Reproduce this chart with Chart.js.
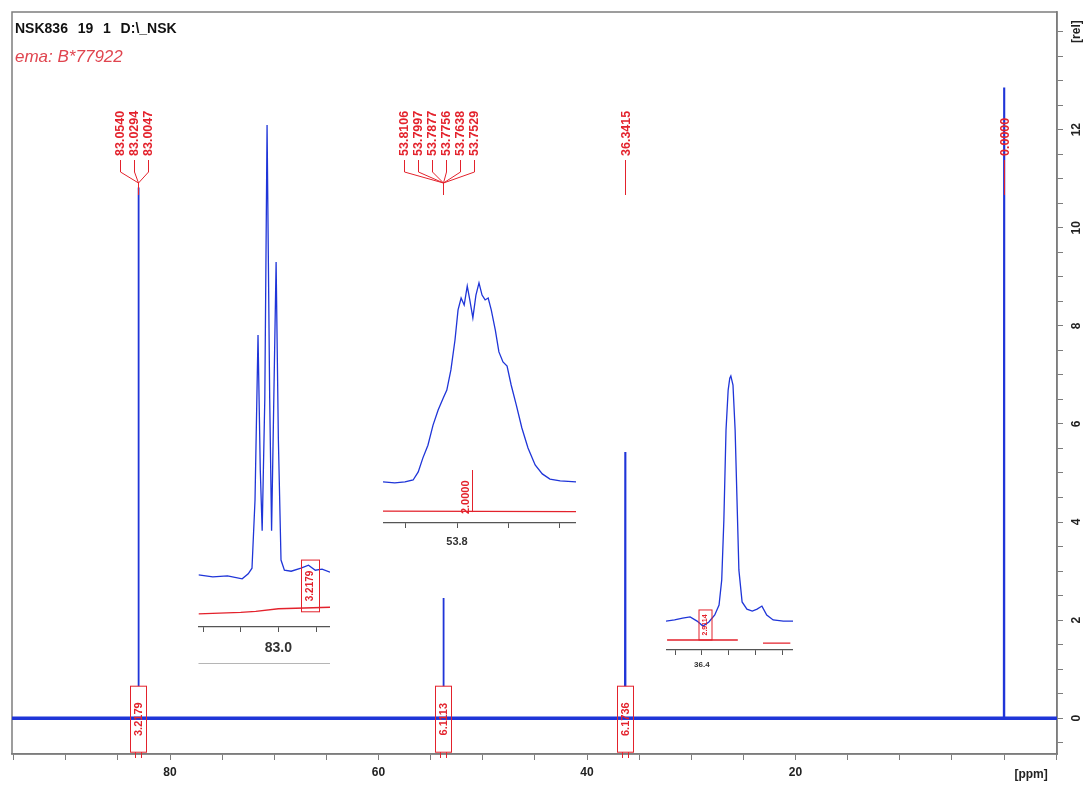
<!DOCTYPE html>
<html>
<head>
<meta charset="utf-8">
<script src="https://cdn.jsdelivr.net/npm/chart.js@4"></script>
<style>
  body { margin: 0; background: #fff; }
  #wrap { position: relative; width: 1090px; height: 787px; overflow: hidden; }
  canvas { position: absolute; }
  .hdr { position: absolute; left: 15px; font-family: Arial, "Liberation Sans", sans-serif; white-space: pre; line-height: 1; }
  #title { top: 21px; font-size: 14px; font-weight: bold; color: #111; word-spacing: 1px; }
  #sub { top: 48px; font-size: 17px; font-style: italic; color: #e0454f; }
</style>
</head>
<body>
<div id="wrap">
  <canvas id="main" width="1090" height="787" style="left:0;top:0"></canvas>
  <canvas id="inset1" width="135" height="555" style="left:195px;top:115px"></canvas>
  <canvas id="inset2" width="193" height="280" style="left:383px;top:275px"></canvas>
  <canvas id="inset3" width="127" height="305" style="left:666px;top:367px"></canvas>
  <div class="hdr" id="title">NSK836  19  1  D:\_NSK</div>
  <div class="hdr" id="sub">ema: B*77922</div>
</div>
<script>
/* ================= DATA ================= */
// main spectrum: peaks (ppm) and heights [rel]
const peakPpm = [83.0294, 53.7756, 36.3415, 0.0];
const peakHeight = [10.82, 2.45, 5.43, 12.86];
const peakLabels = [
  ["83.0540", "83.0294", "83.0047"],
  ["53.8106", "53.7997", "53.7877", "53.7756", "53.7638", "53.7529"],
  ["36.3415"],
  ["0.0000"]
];
const integralPpm = [83.03, 53.78, 36.34];
const integralLabels = ["3.2179", "6.1113", "6.1736"];

const xMin = -5.08, xMax = 95.16;
const yMin = -0.73, yMax = 14.4;

// inset 1: 83.0 ppm multiplet
const inset1Ppm = [83.212, 83.174, 83.135, 83.096, 83.080, 83.070, 83.062, 83.054, 83.048, 83.043,
  83.036, 83.030, 83.023, 83.018, 83.013, 83.006, 83.000, 82.993, 82.984, 82.966, 82.940, 82.920,
  82.902, 82.884, 82.863];
const inset1Int = [10.3, 9.9, 10.1, 9.5, 10.5, 11.6, 25, 57.6, 31, 19, 45, 99, 45, 19, 41, 72, 37,
  13.2, 11.2, 11, 11.6, 12.2, 11.2, 11.4, 10.8];
const inset1IntegPpm = [83.212, 83.10, 83.06, 83.00, 82.863];
const inset1IntegVal = [2.6, 2.9, 3.1, 3.6, 3.9];

// inset 2: 53.8 ppm multiplet
const inset2Ppm = [53.945, 53.922, 53.902, 53.886, 53.876, 53.867, 53.857, 53.847, 53.837, 53.827,
  53.820, 53.812, 53.804, 53.798, 53.792, 53.786, 53.780, 53.775, 53.769, 53.763, 53.757, 53.751,
  53.745, 53.739, 53.733, 53.725, 53.718, 53.710, 53.702, 53.694, 53.684, 53.673, 53.661, 53.647,
  53.633, 53.618, 53.598, 53.567];
const inset2Int = [16.9, 16.5, 16.9, 17.7, 21, 26.7, 32, 40.3, 46.5, 51.4, 54.7, 63, 75.3, 87.7,
  92.6, 89.7, 97.5, 91.8, 84.4, 93.8, 98.8, 93.8, 91.8, 92.6, 87.7, 79.4, 70.4, 66.3, 64.6, 56.8,
  48.6, 39.1, 30.9, 23.9, 20.2, 18.1, 17.3, 16.9];
const inset2IntegPpm = [53.945, 53.567];
const inset2IntegVal = [4.9, 4.7];

// inset 3: 36.3 ppm peak
const inset3Ppm = [36.467, 36.451, 36.436, 36.422, 36.409, 36.398, 36.387, 36.376, 36.368, 36.363,
  36.359, 36.355, 36.351, 36.348, 36.346, 36.342, 36.338, 36.334, 36.331, 36.325, 36.316, 36.306,
  36.297, 36.288, 36.279, 36.267, 36.248, 36.230];
const inset3Int = [10.4, 10.8, 11.5, 11.9, 10.4, 8.6, 10.1, 12.6, 16.2, 25.2, 46.8, 79.1, 93.5,
  97.8, 98.6, 95.3, 79.1, 50.4, 28.8, 17.3, 14.7, 14, 14.7, 15.8, 12.6, 10.8, 10.4, 10.4];
const inset3IntegPpm = [36.465, 36.333, 36.31, 36.286, 36.235];
const inset3IntegVal = [3.6, 3.6, null, 2.5, 2.5];

/* ================= STYLE ================= */
const FONT = 'Arial, "Liberation Sans", sans-serif';
const BLUE = "#1f35d8";
const RED = "#e3222c";
const AXIS = "#7d7d7d";

/* ================= MAIN CHART ================= */
const mainPoints = [{ x: xMax, y: 0 }];
peakPpm.forEach((p, i) => {
  mainPoints.push({ x: p + 0.03, y: 0 }, { x: p, y: peakHeight[i] }, { x: p - 0.03, y: 0 });
});
mainPoints.push({ x: xMin, y: 0 });

function rotText(ctx, text, x, y, align) {
  ctx.save();
  ctx.translate(x, y);
  ctx.rotate(-Math.PI / 2);
  ctx.textAlign = align;
  ctx.textBaseline = "middle";
  ctx.fillText(text, 0, 0);
  ctx.restore();
}

const mainOverlay = {
  id: "mainOverlay",
  beforeDatasetsDraw(chart) {
    const { ctx, chartArea: a } = chart;
    ctx.save();
    ctx.strokeStyle = AXIS;
    ctx.lineWidth = 1.5;
    ctx.strokeRect(a.left, a.top, a.right - a.left, a.bottom - a.top);
    ctx.restore();
  },
  afterDatasetsDraw(chart) {
    const { ctx, chartArea: a, scales: { x, y } } = chart;
    ctx.save();
    ctx.strokeStyle = RED;
    ctx.fillStyle = RED;
    ctx.lineWidth = 1;
    ctx.font = "bold 12.5px " + FONT;

    // peak picking labels with leaders
    peakLabels.forEach((labels, gi) => {
      const px = Math.round(x.getPixelForValue(peakPpm[gi])) + 0.5;
      const n = labels.length;
      const shift = n > 1 ? -5 : 0;
      labels.forEach((t, i) => {
        const lx = Math.round(px + shift + (i - (n - 1) / 2) * 14) + 0.5;
        rotText(ctx, t, lx, a.top + 144, "left");
        ctx.beginPath();
        if (n > 1) {
          ctx.moveTo(lx, a.top + 148);
          ctx.lineTo(lx, a.top + 160);
          ctx.lineTo(px, a.top + 171);
        } else {
          ctx.moveTo(px, a.top + 148);
        }
        ctx.lineTo(px, a.top + 183);
        ctx.stroke();
      });
    });

    // integral boxes on the baseline
    const y0 = y.getPixelForValue(0);
    ctx.font = "bold 11px " + FONT;
    integralPpm.forEach((p, i) => {
      const px = Math.round(x.getPixelForValue(p)) + 0.5;
      ctx.fillStyle = "#fff";
      ctx.fillRect(px - 8, y0 - 32, 16, 66);
      ctx.strokeStyle = BLUE;
      ctx.lineWidth = 3.5;
      ctx.beginPath();
      ctx.moveTo(px - 8, y0); ctx.lineTo(px + 8, y0);
      ctx.stroke();
      ctx.strokeStyle = RED;
      ctx.fillStyle = RED;
      ctx.lineWidth = 1;
      ctx.strokeRect(px - 8, y0 - 32, 16, 66);
      ctx.beginPath();
      ctx.moveTo(px - 3, y0 + 34); ctx.lineTo(px - 3, a.bottom + 4);
      ctx.moveTo(px + 3, y0 + 34); ctx.lineTo(px + 3, a.bottom + 4);
      ctx.stroke();
      rotText(ctx, integralLabels[i], px, y0 + 1, "center");
    });

    // unit label of x axis
    ctx.fillStyle = "#222";
    ctx.font = "bold 12px " + FONT;
    ctx.textAlign = "center";
    ctx.textBaseline = "middle";
    ctx.fillText("[ppm]", x.getPixelForValue(0) + 27, a.bottom + 21);
    ctx.restore();
  }
};

new Chart(document.getElementById("main"), {
  type: "line",
  data: {
    datasets: [
      { data: [{ x: xMax, y: 0 }, { x: xMin, y: 0 }], borderColor: BLUE, borderWidth: 3.5, pointRadius: 0 },
      { data: mainPoints, borderColor: BLUE, borderWidth: 1.8, pointRadius: 0, tension: 0 }
    ]
  },
  options: {
    responsive: false,
    animation: false,
    devicePixelRatio: 1,
    layout: { padding: { left: 12, top: 12, right: 0, bottom: 0 } },
    plugins: { legend: { display: false }, tooltip: { enabled: false } },
    scales: {
      x: {
        type: "linear", reverse: true, min: xMin, max: xMax, position: "bottom",
        afterFit: s => { s.height = 33; },
        border: { color: AXIS, width: 1.5 },
        grid: { drawOnChartArea: false, color: AXIS, tickLength: 6 },
        ticks: {
          stepSize: 5, includeBounds: false, autoSkip: false, maxRotation: 0, padding: 5,
          color: "#222", font: { family: FONT, size: 12, weight: "bold" },
          callback: v => (v > 0 && v % 20 === 0) ? String(v) : ""
        }
      },
      y: {
        position: "right", min: yMin, max: yMax,
        afterFit: s => { s.width = 33; },
        border: { color: AXIS, width: 1.5 },
        grid: { drawOnChartArea: false, color: AXIS, tickLength: 6 },
        ticks: {
          stepSize: 0.5, includeBounds: false, autoSkip: false,
          minRotation: 90, maxRotation: 90, crossAlign: "center", padding: 2,
          color: "#222", font: { family: FONT, size: 12, weight: "bold" },
          callback: v => v === 14 ? "[rel]" : ((v >= 0 && v <= 12 && v % 2 === 0) ? String(v) : "")
        }
      }
    }
  },
  plugins: [mainOverlay]
});

/* ================= INSETS ================= */
function makeInset(id, cfg) {
  const extras = {
    id: "extras_" + id,
    afterDatasetsDraw(chart) {
      const { ctx, chartArea: a, scales: { x, y } } = chart;
      ctx.save();
      if (cfg.separator) {
        ctx.strokeStyle = "#b5b5b5";
        ctx.lineWidth = 1;
        ctx.beginPath();
        ctx.moveTo(a.left, a.bottom + cfg.separator + 0.5);
        ctx.lineTo(a.right, a.bottom + cfg.separator + 0.5);
        ctx.stroke();
      }
      ctx.strokeStyle = RED;
      ctx.fillStyle = RED;
      ctx.lineWidth = 1;
      const b = cfg.box;
      const px = Math.round(x.getPixelForValue(b.ppm)) + 0.5;
      const yt = y.getPixelForValue(b.top), yb = y.getPixelForValue(b.bottom);
      ctx.font = b.font + " " + FONT;
      if (b.halfWidth) {
        ctx.strokeRect(px - b.halfWidth, yt, 2 * b.halfWidth, yb - yt);
        rotText(ctx, b.label, px, (yt + yb) / 2, "center");
      } else {
        ctx.beginPath();
        ctx.moveTo(px, yt); ctx.lineTo(px, yb); ctx.stroke();
        rotText(ctx, b.label, px - 7, yb + 2, "left");
      }
      ctx.restore();
    }
  };
  return new Chart(document.getElementById(id), {
    type: "line",
    data: {
      datasets: [
        { data: cfg.ppm.map((p, i) => ({ x: p, y: cfg.intensity[i] })), borderColor: BLUE, borderWidth: 1.3, pointRadius: 0 },
        { data: cfg.integPpm.map((p, i) => ({ x: p, y: cfg.integVal[i] })), borderColor: RED, borderWidth: 1.3, pointRadius: 0, spanGaps: false }
      ]
    },
    options: {
      responsive: false,
      animation: false,
      devicePixelRatio: 1,
      layout: { padding: { top: 5, left: 0, right: 0, bottom: 0 } },
      plugins: { legend: { display: false }, tooltip: { enabled: false } },
      scales: {
        x: {
          type: "linear", reverse: true, min: cfg.min, max: cfg.max,
          afterFit: s => { s.height = cfg.axisHeight; },
          border: { color: "#555", width: 1.2 },
          grid: { drawOnChartArea: false, color: "#555", tickLength: 5 },
          ticks: {
            stepSize: cfg.step, includeBounds: false, autoSkip: false, maxRotation: 0, padding: cfg.pad,
            color: "#333", font: { family: FONT, size: cfg.fontSize, weight: "bold" },
            callback: v => Math.abs(v - cfg.labelAt) < 1e-6 ? cfg.labelText : ""
          }
        },
        y: { display: false, min: 0, max: 100 }
      }
    },
    plugins: [extras]
  });
}

makeInset("inset1", {
  ppm: inset1Ppm, intensity: inset1Int, integPpm: inset1IntegPpm, integVal: inset1IntegVal,
  min: 82.863, max: 83.212, step: 0.1, labelAt: 83.0, labelText: "83.0",
  axisHeight: 43, pad: 8, fontSize: 14, separator: 36,
  box: { ppm: 82.917, top: 13.2, bottom: 3.0, halfWidth: 9, label: "3.2179", font: "bold 10px" }
});

makeInset("inset2", {
  ppm: inset2Ppm, intensity: inset2Int, integPpm: inset2IntegPpm, integVal: inset2IntegVal,
  min: 53.567, max: 53.945, step: 0.1, labelAt: 53.8, labelText: "53.8",
  axisHeight: 32, pad: 7, fontSize: 11,
  box: { ppm: 53.771, top: 21.8, bottom: 4.5, label: "2.0000", font: "bold 11px" }
});

makeInset("inset3", {
  ppm: inset3Ppm, intensity: inset3Int, integPpm: inset3IntegPpm, integVal: inset3IntegVal,
  min: 36.230, max: 36.467, step: 0.05, labelAt: 36.4, labelText: "36.4",
  axisHeight: 22, pad: 5, fontSize: 8,
  box: { ppm: 36.394, top: 14.4, bottom: 3.6, halfWidth: 6.5, label: "2.9114", font: "bold 7px" }
});
</script>
</body>
</html>
